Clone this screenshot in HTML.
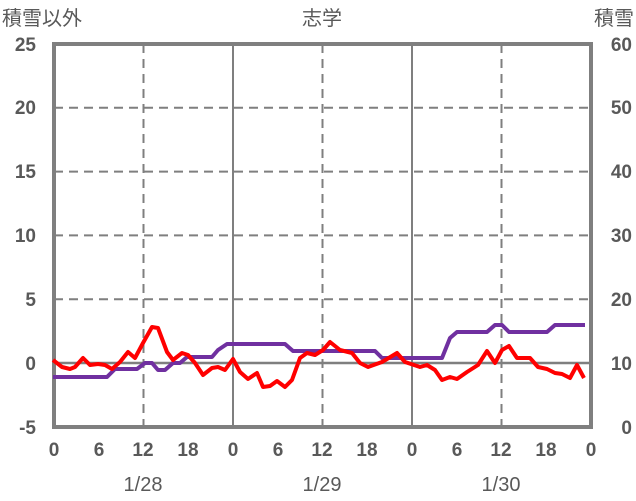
<!DOCTYPE html>
<html><head><meta charset="utf-8"><style>body{margin:0;background:#fff}svg{display:block}text{font-family:"Liberation Sans","Noto Sans CJK JP",sans-serif;fill:#595959;font-size:19px;font-weight:bold}.n{font-weight:normal;font-size:20px}</style></head><body>
<svg width="636" height="501" viewBox="0 0 636 501">
<g stroke="#7f7f7f" stroke-width="2" stroke-dasharray="9,6">
<line x1="54" y1="107.8" x2="591" y2="107.8"/><line x1="54" y1="171.6" x2="591" y2="171.6"/><line x1="54" y1="235.4" x2="591" y2="235.4"/><line x1="54" y1="299.2" x2="591" y2="299.2"/>
<line x1="143.5" y1="44" x2="143.5" y2="427"/><line x1="322.5" y1="44" x2="322.5" y2="427"/><line x1="501.5" y1="44" x2="501.5" y2="427"/>
</g>
<g stroke="#7f7f7f" stroke-width="2"><line x1="233" y1="44" x2="233" y2="427"/><line x1="412" y1="44" x2="412" y2="427"/><line x1="54" y1="363" x2="591" y2="363" stroke-width="2.5"/></g>
<rect x="54" y="44" width="537" height="383" fill="none" stroke="#7f7f7f" stroke-width="4"/>
<polyline fill="none" stroke="#7030a0" stroke-width="4" stroke-linejoin="round" points="53,377 107,377 115,369 137,369 145,363 152,363 158,370 165,370 173,363 180,363 187,357 212,357 218,350 227,344 285,344 293,351 375,351 382,358 442,358 450,338 457,332 487,332 495,325 502,325 509,332 547,332 555,325 585,325"/>
<polyline fill="none" stroke="#ff0000" stroke-width="4" stroke-linejoin="round" points="53,360 62,367 70,369 75,367 83,358 90,365 98,364 105,365 112,369 120,362 128,352 135,358 143,343 152,327 158,328 167,352 173,360 182,353 188,355 195,363 203,375 212,368 218,367 225,370 233,359 240,372 248,379 257,373 263,387 270,386 277,381 285,387 292,380 300,358 307,353 315,355 323,350 330,342 340,350 352,353 360,363 368,367 382,362 397,353 405,362 420,367 427,365 435,370 442,380 450,377 457,379 467,372 478,365 487,351 495,363 502,350 509,346 517,358 530,358 538,367 547,369 555,373 562,374 570,378 577,365 584,378"/>
<g text-anchor="end"><text x="36" y="51">25</text><text x="36" y="114">20</text><text x="36" y="178">15</text><text x="36" y="242">10</text><text x="36" y="306">5</text><text x="36" y="370">0</text><text x="36" y="434">-5</text></g>
<g text-anchor="end"><text x="632" y="51">60</text><text x="632" y="114">50</text><text x="632" y="178">40</text><text x="632" y="242">30</text><text x="632" y="306">20</text><text x="632" y="370">10</text><text x="632" y="434">0</text></g>
<g text-anchor="middle"><text x="54" y="456">0</text><text x="99" y="456">6</text><text x="143" y="456">12</text><text x="188" y="456">18</text><text x="233" y="456">0</text><text x="278" y="456">6</text><text x="322" y="456">12</text><text x="367" y="456">18</text><text x="412" y="456">0</text><text x="457" y="456">6</text><text x="501" y="456">12</text><text x="546" y="456">18</text><text x="591" y="456">0</text>
<text class="n" x="143" y="491">1/28</text><text class="n" x="322" y="491">1/29</text><text class="n" x="501" y="491">1/30</text>
<text class="n" x="322" y="25">志学</text></g>
<text class="n" x="2" y="25">積雪以外</text><text class="n" x="634" y="25" text-anchor="end">積雪</text>
</svg>
</body></html>
